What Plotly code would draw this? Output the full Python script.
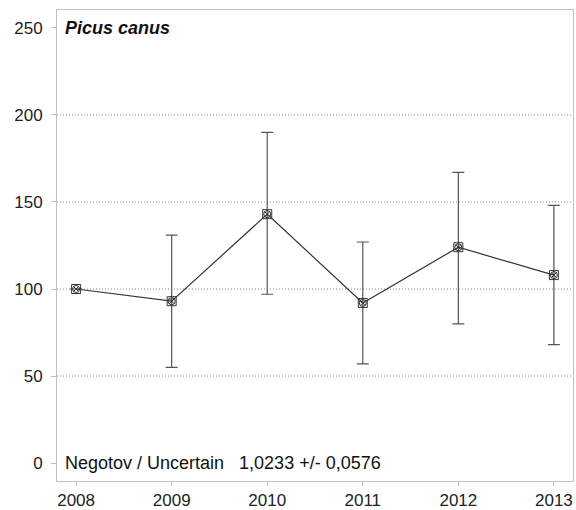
import plotly.graph_objects as go

years = [2008, 2009, 2010, 2011, 2012, 2013]
index_values = [100, 93, 143, 92, 124, 108]
upper_values = [100, 131, 190, 127, 167, 148]
lower_values = [100, 55, 97, 57, 80, 68]
y_ticks = [0, 50, 100, 150, 200, 250]
grid_levels = [50, 100, 150, 200]
species = "Picus canus"
trend_text = "Negotov / Uncertain   1,0233 +/- 0,0576"

err_plus = [u - v for u, v in zip(upper_values, index_values)]
err_minus = [v - l for v, l in zip(index_values, lower_values)]

fig = go.Figure()

for g in grid_levels:
    fig.add_shape(type="line", xref="paper", x0=0, x1=1, yref="y", y0=g, y1=g,
                  line=dict(color="#8a8a8a", width=1, dash="1px,2px"), layer="below")

fig.add_trace(go.Scatter(
    x=years, y=index_values, mode="lines+markers",
    line=dict(color="#333333", width=1.2),
    marker=dict(symbol="square-open", size=9, color="#333333", line=dict(width=1)),
    error_y=dict(type="data", symmetric=False, array=err_plus, arrayminus=err_minus,
                 color="#555555", thickness=1.2, width=6),
    showlegend=False,
))
fig.add_trace(go.Scatter(
    x=years, y=index_values, mode="markers",
    marker=dict(symbol="circle-x-open", size=7, color="#333333", line=dict(width=1)),
    showlegend=False, hoverinfo="skip",
))

fig.add_annotation(x=0.012, y=250, xref="paper", yref="y", xanchor="left", yanchor="middle",
                   text="<b><i>" + species + "</i></b>", showarrow=False,
                   font=dict(family="Liberation Sans, Arial", size=18, color="#111111"))
fig.add_annotation(x=0.012, y=0, xref="paper", yref="y", xanchor="left", yanchor="middle",
                   text=trend_text, showarrow=False,
                   font=dict(family="Liberation Sans, Arial", size=18, color="#111111"))

fig.update_layout(
    width=576, height=510,
    margin=dict(l=57, r=3, t=10, b=29),
    paper_bgcolor="white", plot_bgcolor="white",
    font=dict(family="Liberation Sans, Arial", size=17, color="#222222"),
    xaxis=dict(range=[2007.8, 2013.2], tickvals=years, ticktext=[str(y) for y in years],
               showgrid=False, zeroline=False, showline=True, linecolor="#c0c0c0",
               linewidth=1, mirror=True, ticks="outside", ticklen=4, tickcolor="#c0c0c0",
               automargin=False),
    yaxis=dict(range=[-10.3, 260.3], tickvals=y_ticks, showgrid=False, zeroline=False,
               showline=True, linecolor="#c0c0c0", linewidth=1, mirror=True,
               ticks="outside", ticklen=5, tickcolor="#c0c0c0", automargin=False,
               ticklabelstandoff=5),
)

fig.write_html("out.html", config={"displayModeBar": False},
               post_script="document.body.style.margin='0';document.body.style.overflow='hidden';")
